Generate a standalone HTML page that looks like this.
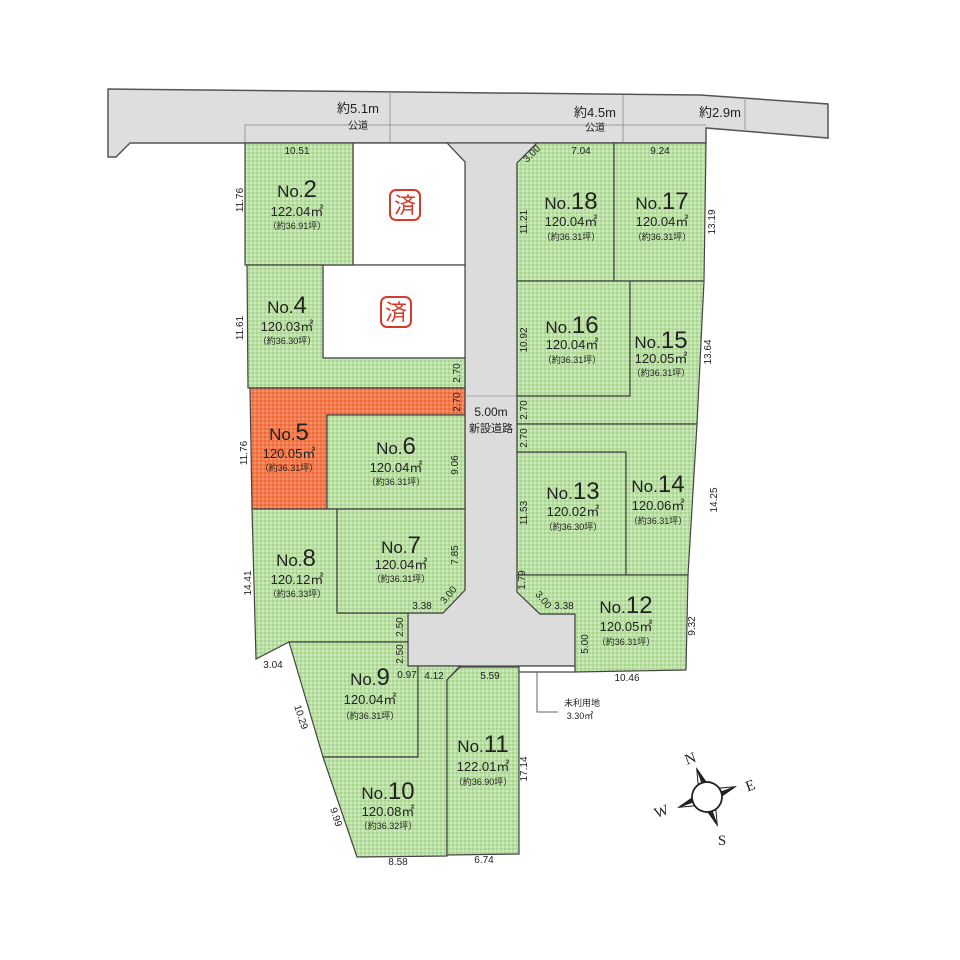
<!DOCTYPE html>
<html><head><meta charset="utf-8"><style>
html,body{margin:0;padding:0;background:#fff;}
svg{display:block;}
text{font-family:"Liberation Sans","Noto Sans CJK JP",sans-serif;fill:#222;}
.d{font-size:10px;text-anchor:middle;}
.n{text-anchor:middle;}
</style></head><body>
<svg width="960" height="960" viewBox="0 0 960 960" xmlns="http://www.w3.org/2000/svg">
<defs>
<pattern id="g" width="4" height="4" patternUnits="userSpaceOnUse">
<rect width="4" height="4" fill="#b9e0a2"/><rect width="2" height="2" fill="#a8d48f"/><rect x="2" y="2" width="2" height="2" fill="#cdeabd"/>
</pattern>
<pattern id="o" width="4" height="4" patternUnits="userSpaceOnUse">
<rect width="4" height="4" fill="#f47a4c"/><rect width="2" height="2" fill="#ef6a3a"/><rect x="2" y="2" width="2" height="2" fill="#f79470"/>
</pattern>
</defs>
<!-- public road -->
<polygon points="108,89 700,95 828,104 828,138 706,128 706,143 130,143 116,157 108,157" fill="#dedede" stroke="#555" stroke-width="1.5"/>
<polyline points="245,143 245,125 706,125" fill="none" stroke="#999" stroke-width="1"/>
<line x1="390" y1="92" x2="390" y2="143" stroke="#999"/>
<line x1="623" y1="95" x2="623" y2="143" stroke="#999"/>
<line x1="745" y1="98" x2="745" y2="131" stroke="#999"/>
<!-- new road -->
<polygon points="447,143 537,143 517,163 517,592 540,614 575,614 575,666 408,666 408,613 443,613 465,590 465,162" fill="#dcdcdc" stroke="#555" stroke-width="1.2"/>
<line x1="465" y1="396" x2="517" y2="396" stroke="#aaa"/>
<!-- saved lots -->
<polygon points="353,143 447,143 465,162 465,265 353,265" fill="#fff" stroke="#444" stroke-width="1.2"/>
<rect x="323" y="265" width="142" height="93" fill="#fff" stroke="#444" stroke-width="1.2"/>
<g stroke="#444" stroke-width="1.2">
<rect x="245" y="143" width="108" height="122" fill="url(#g)"/>
<polygon points="247,265 323,265 323,358 465,358 465,388 248,388" fill="url(#g)"/>
<polygon points="250,388 465,388 465,415 327,415 327,509 252,509" fill="url(#o)"/>
<rect x="327" y="415" width="138" height="94" fill="url(#g)"/>
<polygon points="252,509 337,509 337,613 408,613 408,642 289,642 256,659" fill="url(#g)"/>
<polygon points="337,509 465,509 465,590 443,613 337,613" fill="url(#g)"/>
<polygon points="289,642 408,642 408,666 418,666 418,757 323,757" fill="url(#g)"/>
<polygon points="323,757 418,757 418,666 460,666 447,680 447,856 357,857" fill="url(#g)"/>
<polygon points="460,667 519,667 519,854 447,855 447,680" fill="url(#g)"/>
<polygon points="517,163 537,143 614,143 614,281 517,281" fill="url(#g)"/>
<polygon points="614,143 706,143 704,281 614,281" fill="url(#g)"/>
<rect x="517" y="281" width="113" height="115" fill="url(#g)"/>
<polygon points="630,281 704,281 697,424 517,424 517,396 630,396" fill="url(#g)"/>
<rect x="517" y="452" width="109" height="123" fill="url(#g)"/>
<polygon points="517,424 697,424 688,575 626,575 626,452 517,452" fill="url(#g)"/>
<polygon points="517,575 688,575 686,670 575,672 575,614 540,614 517,592" fill="url(#g)"/>
<polygon points="519,666 575,666 575,672 519,672" fill="#fff"/>
</g>
<polyline points="537,672 537,712 558,712" fill="none" stroke="#666" stroke-width="1"/>
<text x="582" y="706" font-size="9" class="n">未利用地</text>
<text x="580" y="719" font-size="9" class="n">3.30㎡</text>
<!-- stamps -->
<rect x="390" y="190" width="30" height="30" rx="6" fill="none" stroke="#d63a2a" stroke-width="2"/>
<text x="405" y="213" font-size="22" class="n" style="fill:#d63a2a">済</text>
<rect x="381" y="297" width="30" height="30" rx="6" fill="none" stroke="#d63a2a" stroke-width="2"/>
<text x="396" y="320" font-size="22" class="n" style="fill:#d63a2a">済</text>
<!-- road labels -->
<text x="358" y="113" font-size="13" class="n">約5.1m</text>
<text x="358" y="129" font-size="10" class="n">公道</text>
<text x="595" y="117" font-size="13" class="n">約4.5m</text>
<text x="595" y="131" font-size="10" class="n">公道</text>
<text x="720" y="117" font-size="13" class="n">約2.9m</text>
<text x="491" y="416" font-size="12" class="n">5.00m</text>
<text x="491" y="432" font-size="11" class="n">新設道路</text>
<!-- lot labels -->
<g class="n">
<text x="297" y="197" class="n"><tspan font-size="17">No.</tspan><tspan font-size="24">2</tspan></text>
<text x="297" y="216" font-size="13" class="n">122.04㎡</text>
<text x="297" y="229" font-size="9" class="n">（約36.91坪）</text>
<text x="287" y="313" class="n"><tspan font-size="17">No.</tspan><tspan font-size="24">4</tspan></text>
<text x="287" y="331" font-size="13" class="n">120.03㎡</text>
<text x="287" y="344" font-size="9" class="n">（約36.30坪）</text>
<text x="289" y="440" class="n"><tspan font-size="17">No.</tspan><tspan font-size="24">5</tspan></text>
<text x="289" y="458" font-size="13" class="n">120.05㎡</text>
<text x="289" y="471" font-size="9" class="n">（約36.31坪）</text>
<text x="396" y="454" class="n"><tspan font-size="17">No.</tspan><tspan font-size="24">6</tspan></text>
<text x="396" y="472" font-size="13" class="n">120.04㎡</text>
<text x="396" y="485" font-size="9" class="n">（約36.31坪）</text>
<text x="401" y="553" class="n"><tspan font-size="17">No.</tspan><tspan font-size="24">7</tspan></text>
<text x="401" y="569" font-size="13" class="n">120.04㎡</text>
<text x="401" y="582" font-size="9" class="n">（約36.31坪）</text>
<text x="296" y="566" class="n"><tspan font-size="17">No.</tspan><tspan font-size="24">8</tspan></text>
<text x="297" y="584" font-size="13" class="n">120.12㎡</text>
<text x="297" y="597" font-size="9" class="n">（約36.33坪）</text>
<text x="370" y="685" class="n"><tspan font-size="17">No.</tspan><tspan font-size="24">9</tspan></text>
<text x="370" y="704" font-size="13" class="n">120.04㎡</text>
<text x="370" y="719" font-size="9" class="n">（約36.31坪）</text>
<text x="388" y="799" class="n"><tspan font-size="17">No.</tspan><tspan font-size="24">10</tspan></text>
<text x="388" y="816" font-size="13" class="n">120.08㎡</text>
<text x="388" y="829" font-size="9" class="n">（約36.32坪）</text>
<text x="483" y="752" class="n"><tspan font-size="17">No.</tspan><tspan font-size="24">11</tspan></text>
<text x="483" y="771" font-size="13" class="n">122.01㎡</text>
<text x="483" y="785" font-size="9" class="n">（約36.90坪）</text>
<text x="626" y="613" class="n"><tspan font-size="17">No.</tspan><tspan font-size="24">12</tspan></text>
<text x="626" y="631" font-size="13" class="n">120.05㎡</text>
<text x="626" y="645" font-size="9" class="n">（約36.31坪）</text>
<text x="573" y="499" class="n"><tspan font-size="17">No.</tspan><tspan font-size="24">13</tspan></text>
<text x="573" y="516" font-size="13" class="n">120.02㎡</text>
<text x="573" y="530" font-size="9" class="n">（約36.30坪）</text>
<text x="658" y="492" class="n"><tspan font-size="17">No.</tspan><tspan font-size="24">14</tspan></text>
<text x="658" y="510" font-size="13" class="n">120.06㎡</text>
<text x="658" y="524" font-size="9" class="n">（約36.31坪）</text>
<text x="661" y="348" class="n"><tspan font-size="17">No.</tspan><tspan font-size="24">15</tspan></text>
<text x="661" y="363" font-size="13" class="n">120.05㎡</text>
<text x="661" y="376" font-size="9" class="n">（約36.31坪）</text>
<text x="572" y="333" class="n"><tspan font-size="17">No.</tspan><tspan font-size="24">16</tspan></text>
<text x="572" y="349" font-size="13" class="n">120.04㎡</text>
<text x="572" y="363" font-size="9" class="n">（約36.31坪）</text>
<text x="662" y="209" class="n"><tspan font-size="17">No.</tspan><tspan font-size="24">17</tspan></text>
<text x="662" y="226" font-size="13" class="n">120.04㎡</text>
<text x="662" y="240" font-size="9" class="n">（約36.31坪）</text>
<text x="571" y="209" class="n"><tspan font-size="17">No.</tspan><tspan font-size="24">18</tspan></text>
<text x="571" y="226" font-size="13" class="n">120.04㎡</text>
<text x="571" y="240" font-size="9" class="n">（約36.31坪）</text>
</g>
<!-- dimensions -->
<g class="d">
<text x="297" y="154" class="d">10.51</text>
<text x="243" y="200" class="d" transform="rotate(-90 243 200)">11.76</text>
<text x="243" y="328" class="d" transform="rotate(-90 243 328)">11.61</text>
<text x="460" y="373" class="d" transform="rotate(-90 460 373)">2.70</text>
<text x="460" y="402" class="d" transform="rotate(-90 460 402)">2.70</text>
<text x="247" y="453" class="d" transform="rotate(-90 247 453)">11.76</text>
<text x="458" y="465" class="d" transform="rotate(-90 458 465)">9.06</text>
<text x="458" y="555" class="d" transform="rotate(-90 458 555)">7.85</text>
<text x="451" y="597" class="d" transform="rotate(-50 451 597)">3.00</text>
<text x="422" y="609" class="d">3.38</text>
<text x="251" y="583" class="d" transform="rotate(-90 251 583)">14.41</text>
<text x="403" y="627" class="d" transform="rotate(-90 403 627)">2.50</text>
<text x="403" y="654" class="d" transform="rotate(-90 403 654)">2.50</text>
<text x="273" y="668" class="d">3.04</text>
<text x="407" y="678" font-size="7" class="d">0.97</text>
<text x="434" y="679" class="d">4.12</text>
<text x="490" y="679" class="d">5.59</text>
<text x="298" y="718" class="d" transform="rotate(72 298 718)">10.29</text>
<text x="333" y="818" class="d" transform="rotate(72 333 818)">9.99</text>
<text x="398" y="865" class="d">8.58</text>
<text x="484" y="863" class="d">6.74</text>
<text x="527" y="769" class="d" transform="rotate(-90 527 769)">17.14</text>
<text x="627" y="681" class="d">10.46</text>
<text x="695" y="626" class="d" transform="rotate(-90 695 626)">9.32</text>
<text x="588" y="644" class="d" transform="rotate(-90 588 644)">5.00</text>
<text x="564" y="609" class="d">3.38</text>
<text x="541" y="602" font-size="7" class="d" transform="rotate(50 541 602)">3.00</text>
<text x="525" y="580" font-size="7" class="d" transform="rotate(-90 525 580)">1.79</text>
<text x="527" y="513" class="d" transform="rotate(-90 527 513)">11.53</text>
<text x="717" y="500" class="d" transform="rotate(-90 717 500)">14.25</text>
<text x="527" y="438" class="d" transform="rotate(-90 527 438)">2.70</text>
<text x="527" y="410" class="d" transform="rotate(-90 527 410)">2.70</text>
<text x="527" y="340" class="d" transform="rotate(-90 527 340)">10.92</text>
<text x="711" y="352" class="d" transform="rotate(-90 711 352)">13.64</text>
<text x="527" y="222" class="d" transform="rotate(-90 527 222)">11.21</text>
<text x="715" y="222" class="d" transform="rotate(-90 715 222)">13.19</text>
<text x="534" y="156" class="d" transform="rotate(-45 534 156)">3.00</text>
<text x="581" y="154" class="d">7.04</text>
<text x="660" y="154" class="d">9.24</text>
</g>
<!-- compass -->
<g transform="rotate(-20 707 797)" stroke="#222" stroke-width="1">
<polygon points="707,767 711,782 703,782" fill="#fff"/><polygon points="707,767 711,782 707,782" fill="#222"/>
<polygon points="707,827 703,812 711,812" fill="#fff"/><polygon points="707,827 703,812 707,812" fill="#222"/>
<polygon points="737,797 722,793 722,801" fill="#fff"/><polygon points="737,797 722,801 722,797" fill="#222"/>
<polygon points="677,797 692,801 692,793" fill="#fff"/><polygon points="677,797 692,793 692,797" fill="#222"/>
<circle cx="707" cy="797" r="15" fill="#fff" stroke-width="1.8"/>
</g>
<g font-size="15">
<text x="692" y="763" style="font-family:'Liberation Serif',serif" transform="rotate(-20 692 763)" class="n">N</text>
<text x="752" y="790" style="font-family:'Liberation Serif',serif" transform="rotate(-20 752 790)" class="n">E</text>
<text x="663" y="816" style="font-family:'Liberation Serif',serif" transform="rotate(-20 663 816)" class="n">W</text>
<text x="722" y="845" style="font-family:'Liberation Serif',serif" class="n">S</text>
</g>
</svg>
</body></html>
